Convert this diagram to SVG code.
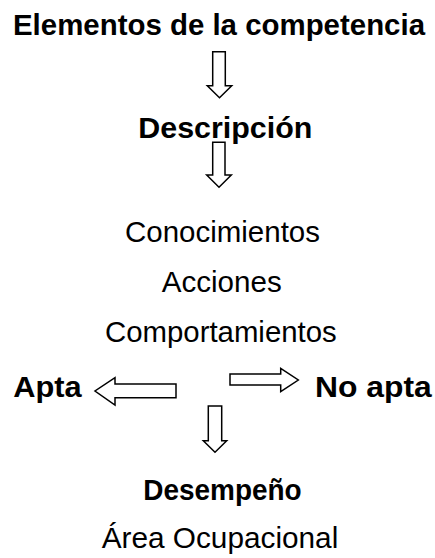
<svg xmlns="http://www.w3.org/2000/svg" width="435" height="558" viewBox="0 0 435 558">
<style>
.b{font-family:"Liberation Sans",Arial,sans-serif;font-weight:bold;font-size:30px;fill:#000}
.r{font-family:"Liberation Sans",Arial,sans-serif;font-size:29px;fill:#000}
.arr{fill:#fff;stroke:#000;stroke-width:1.5;stroke-linejoin:miter}
</style>
<rect width="435" height="558" fill="#fff"/>
<g id="connectors">
<polygon class="arr" points="212.7,51.7 225.3,51.7 225.3,85.7 231.7,85.7 219.5,97.7 207.3,85.7 212.7,85.7"/>
<polygon class="arr" points="212.7,142.3 225,142.3 225,175 231.3,175 219,187.3 206.7,175 212.7,175"/>
<polygon class="arr" points="176,384 176,397.7 115,397.7 115,405 95,391 115,377.7 115,384"/>
<polygon class="arr" points="230,374 280.7,374 280.7,368.3 298.3,380 280.7,391.7 280.7,385 230,385"/>
<polygon class="arr" points="208.3,406 221.7,406 221.7,440.7 226.7,440.7 215,452.3 203.3,440.7 208.3,440.7"/>
</g>
<g id="elementos"><text class="b" x="13" y="35" textLength="412" lengthAdjust="spacingAndGlyphs">Elementos de la competencia</text></g>
<g id="descripcion"><text class="b" x="138.3" y="138" textLength="174" lengthAdjust="spacingAndGlyphs">Descripción</text></g>
<g id="conocimientos"><text class="r" x="125" y="242" textLength="195" lengthAdjust="spacingAndGlyphs">Conocimientos</text></g>
<g id="acciones"><text class="r" x="161.7" y="292" textLength="120" lengthAdjust="spacingAndGlyphs">Acciones</text></g>
<g id="comportamientos"><text class="r" x="105" y="342" textLength="231.7" lengthAdjust="spacingAndGlyphs">Comportamientos</text></g>
<g id="apta"><text class="b" x="13.3" y="397" textLength="68.4" lengthAdjust="spacingAndGlyphs">Apta</text></g>
<g id="no-apta"><text class="b" x="315" y="397" textLength="116.7" lengthAdjust="spacingAndGlyphs">No apta</text></g>
<g id="desempeno"><text class="b" x="143.3" y="500" textLength="158.4" lengthAdjust="spacingAndGlyphs">Desempeño</text></g>
<g id="area"><text class="r" x="101.7" y="548.3" textLength="236.6" lengthAdjust="spacingAndGlyphs">Área Ocupacional</text></g>
</svg>
